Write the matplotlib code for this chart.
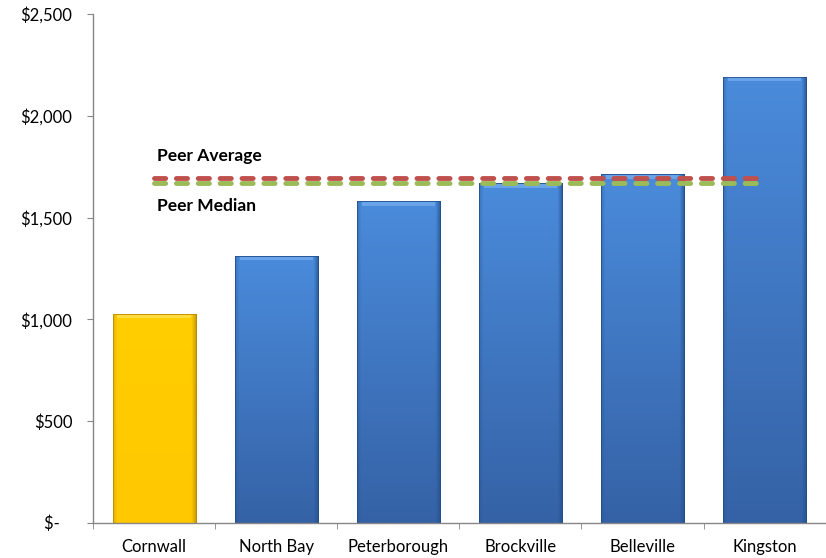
import numpy as np
import matplotlib
matplotlib.use("Agg")
import matplotlib.pyplot as plt
from matplotlib.colors import to_rgb

plt.rcParams['font.family'] = ['Lato', 'DejaVu Sans']

# data
cities = ['Cornwall', 'North Bay', 'Peterborough', 'Brockville', 'Belleville', 'Kingston']
costs = [1026, 1311, 1581, 1669, 1713, 2193]
peer_average = 1695
peer_median = 1672
yticks = [0, 500, 1000, 1500, 2000, 2500]
ytick_labels = ['$-   ', '$500', '$1,000', '$1,500', '$2,000', '$2,500']


def bar_image(top_col, bot_col, edge_col, n=80):
    # vertical gradient top->bottom, darker strips on left/right edges
    t = np.linspace(0, 1, n).reshape(-1, 1)
    top_c = np.array(to_rgb(top_col))
    bot_c = np.array(to_rgb(bot_col))
    base = top_c * (1 - t)[..., None] + bot_c * t[..., None]
    base = np.repeat(base, n, axis=1)
    u = np.linspace(0, 1, n)
    edge = np.array(to_rgb(edge_col))
    wl = np.clip(1 - u / 0.05, 0, 1) * 0.35
    wr = np.clip(1 - (1 - u) / 0.06, 0, 1) * 0.8
    w = np.maximum(wl, wr)[None, :, None]
    return base * (1 - w) + edge * w


fig = plt.figure(figsize=(8.26, 5.58), dpi=100)
ax = fig.add_axes([0.1126, 0.0633, 0.8900, 0.9113])

x = np.arange(len(cities))
colors = ['#FFCC00'] + ['#4283D3'] * 5
edges = ['#B88A00'] + ['#23508C'] * 5
bars = ax.bar(x, costs, width=0.68, color=colors, edgecolor='none', zorder=2)

for i, b in enumerate(bars):
    x0, w, h = b.get_x(), b.get_width(), b.get_height()
    if i == 0:
        img = bar_image('#FFCE00', '#FFC800', '#B88A00')
        hi = '#FFE45A'
    else:
        img = bar_image('#4A8BDB', '#3562A6', '#23508C')
        hi = '#78AEEE'
    im = ax.imshow(img, aspect='auto', extent=(x0, x0 + w, 0, h), origin='upper', zorder=2.1)
    im.set_clip_path(b)
    # top bevel highlight
    bev = ax.fill_between([x0 + 0.04, x0 + w - 0.04], h - 22, h - 3,
                          color=hi, alpha=0.7, lw=0, zorder=2.3)
    bev.set_clip_path(b)
    ax.bar(x0 + w / 2, h, width=w, fill=False, edgecolor=edges[i], linewidth=0.6, zorder=2.4)

# peer lines
ax.plot([0, 5], [peer_average, peer_average], color='#C0504D', lw=3.5,
        dashes=(2.3, 2.2), dash_capstyle='round', zorder=3)
ax.plot([0, 5], [peer_median, peer_median], color='#9BBB59', lw=3.5,
        dashes=(2.3, 2.2), dash_capstyle='round', zorder=3)
ax.text(0.02, 1803, 'Peer Average', fontsize=12.5, fontweight='bold', va='center', ha='left')
ax.text(0.02, 1556, 'Peer Median', fontsize=12.5, fontweight='bold', va='center', ha='left')

ax.set_xlim(-0.5, 5.52)
ax.set_ylim(0, 2500)
ax.set_yticks(yticks)
ax.set_yticklabels(ytick_labels, fontsize=12)
ax.set_xticks(x)
ax.set_xticklabels(cities, fontsize=12)
ax.set_xticks(np.arange(-0.5, 6.0, 1.0), minor=True)

for s in ['top', 'right']:
    ax.spines[s].set_visible(False)
for s in ['left', 'bottom']:
    ax.spines[s].set_color('#868686')
    ax.spines[s].set_linewidth(1.0)
ax.tick_params(axis='y', length=4, color='#868686', pad=11)
ax.tick_params(axis='x', which='major', length=0, pad=12)
ax.tick_params(axis='x', which='minor', length=4, color='#868686')

fig.savefig('out.png', dpi=100)
